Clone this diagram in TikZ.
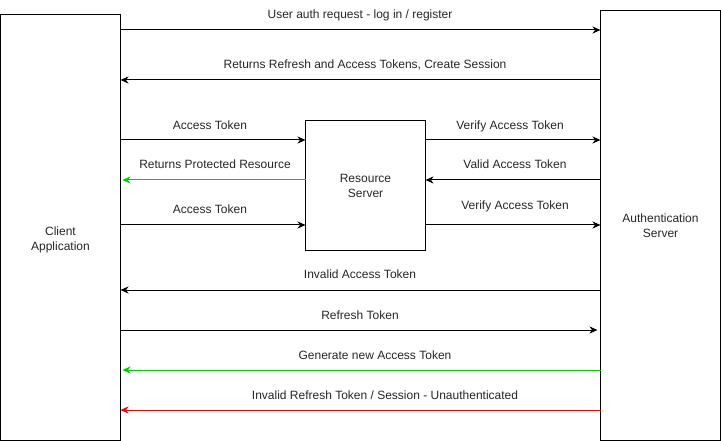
\documentclass[tikz,border=0pt]{standalone}
\usepackage{fontspec}
\setmainfont{Liberation Sans}
\usetikzlibrary{arrows.meta}
\definecolor{okgreen}{HTML}{00CC00}
\definecolor{errred}{HTML}{FF0000}
\begin{document}
\begin{tikzpicture}[x=1pt,y=-1pt,
 box/.style={draw=black,line width=1pt,minimum width=120pt,inner sep=0pt,outer sep=0pt},
 arr/.style={line width=1pt,-{Stealth[length=8pt,width=7pt,inset=2.5pt]}},
 lbl/.style={anchor=base,inner sep=0pt,font=\fontsize{12}{15}\selectfont,text=black!85},
 boxtext/.style={align=center,inner sep=0pt,font=\fontsize{12}{15}\selectfont,text=black!85}]
\useasboundingbox (0,0) rectangle (721,441);
% boxes
\node[box,minimum height=426pt] (client) at (60.5,227.5) {};
\node[box,minimum height=430pt] (auth) at (660.5,225.5) {};
\node[box,minimum height=130pt] (res) at (365.5,185.5) {};
\node[boxtext] (clienttxt) at (60.5,240) {Client\\Application};
\node[boxtext] (authtxt) at (660.5,226) {Authentication\\Server};
\node[boxtext] (restxt) at (365.5,186) {Resource\\Server};
% arrows
\draw[arr] (client.east |- 0,30) -- (auth.west |- 0,30);
\node[lbl] (l1) at (360,19) {User auth request - log in / register};
\draw[arr] (auth.west |- 0,80) -- (client.east |- 0,80);
\node[lbl] (l2) at (365,69) {Returns Refresh and Access Tokens, Create Session};
\draw[arr] (client.east |- 0,140) -- (res.west |- 0,140);
\node[lbl] (l3) at (210,130) {Access Token};
\draw[arr,draw=okgreen] (res.west |- 0,180) -- ([xshift=2pt]client.east |- 0,180);
\node[lbl] (l4) at (215,169) {Returns Protected Resource};
\draw[arr] (client.east |- 0,225) -- (res.west |- 0,225);
\node[lbl] (l5) at (210,214) {Access Token};
\draw[arr] (res.east |- 0,140) -- (auth.west |- 0,140);
\node[lbl] (l6) at (510,130) {Verify Access Token};
\draw[arr] (auth.west |- 0,180) -- (res.east |- 0,180);
\node[lbl] (l7) at (515,169) {Valid Access Token};
\draw[arr] (res.east |- 0,225) -- (auth.west |- 0,225);
\node[lbl] (l8) at (515,210) {Verify Access Token};
\draw[arr] (auth.west |- 0,290) -- (client.east |- 0,290);
\node[lbl] (l9) at (360,279) {Invalid Access Token};
\draw[arr,shorten >=3pt] (client.east |- 0,330) -- (auth.west |- 0,330);
\node[lbl] (l10) at (360,319) {Refresh Token};
\draw[arr,draw=okgreen] (auth.west |- 0,370) -- ([xshift=2pt]client.east |- 0,370);
\node[lbl] (l11) at (375,359) {Generate new Access Token};
\draw[arr,draw=errred] (auth.west |- 0,410) -- (client.east |- 0,410);
\node[lbl] (l12) at (385,399) {Invalid Refresh Token / Session - Unauthenticated};
\end{tikzpicture}
\end{document}
